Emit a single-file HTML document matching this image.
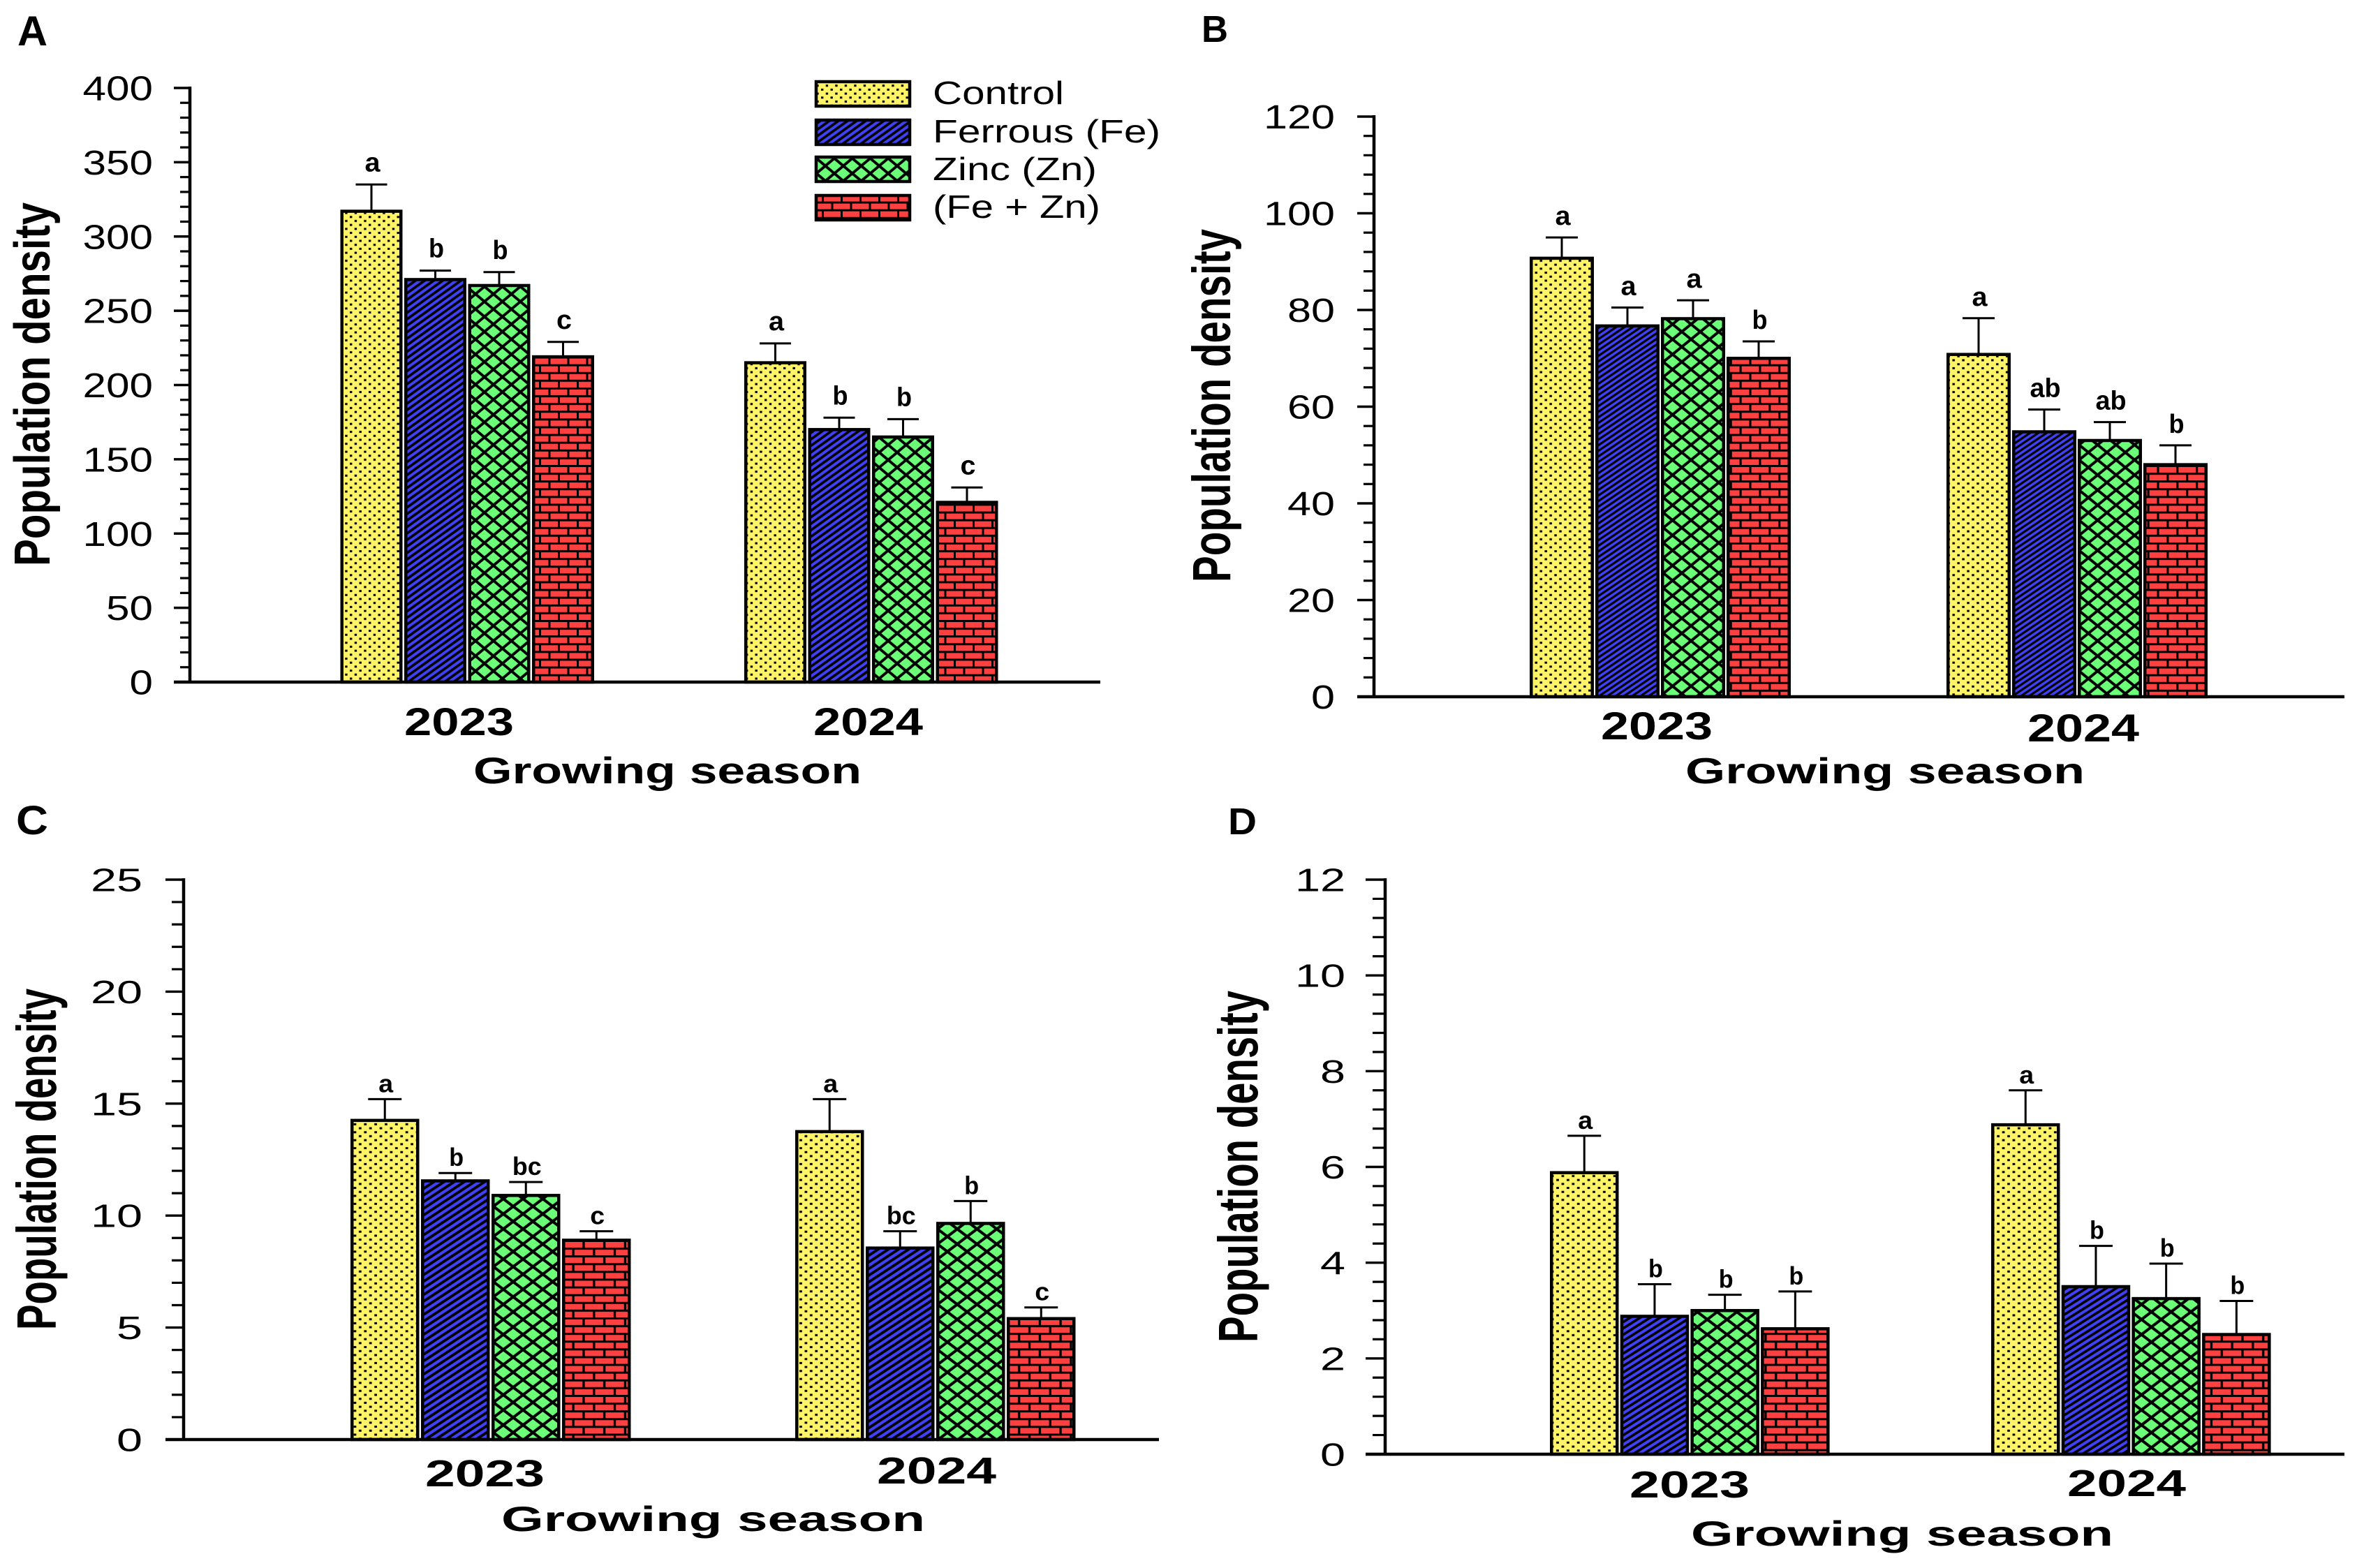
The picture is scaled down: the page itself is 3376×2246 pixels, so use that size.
<!DOCTYPE html>
<html lang="en">
<head>
<meta charset="utf-8">
<title>Population density by growing season</title>
<style>
html,body{margin:0;padding:0;background:#fff;}
svg{display:block;}
text{font-family:"Liberation Sans",Arial,sans-serif;fill:#000;}
</style>
</head>
<body>
<svg id="figure" xmlns="http://www.w3.org/2000/svg" width="3376" height="2246" viewBox="0 0 3376 2246">
<defs id="defs"></defs>
<rect x="0" y="0" width="3376" height="2246" fill="#fff"/>
</svg>
<script>
// ---------- data ----------
const categories = ['2023', '2024'];
const seriesNames = ['Control', 'Ferrous (Fe)', 'Zinc (Zn)', '(Fe + Zn)'];
const seriesKeys = ['control', 'ferrous', 'zinc', 'fe-zn'];

const aTicks = [0, 50, 100, 150, 200, 250, 300, 350, 400];
const aValues2023 = [317, 271, 267, 219];
const aValues2024 = [215, 170, 165, 121];
const aErrors2023 = [18, 6, 9, 10];
const aErrors2024 = [13, 8, 12, 10];
const aLetters2023 = ['a', 'b', 'b', 'c'];
const aLetters2024 = ['a', 'b', 'b', 'c'];

const bTicks = [0, 20, 40, 60, 80, 100, 120];
const bValues2023 = [90.7, 76.7, 78.2, 70];
const bValues2024 = [70.8, 54.8, 53, 48];
const bErrors2023 = [4.3, 3.8, 3.8, 3.5];
const bErrors2024 = [7.5, 4.6, 3.8, 4];
const bLetters2023 = ['a', 'a', 'a', 'b'];
const bLetters2024 = ['a', 'ab', 'ab', 'b'];

const cTicks = [0, 5, 10, 15, 20, 25];
const cValues2023 = [14.25, 11.55, 10.9, 8.9];
const cValues2024 = [13.75, 8.55, 9.65, 5.4];
const cErrors2023 = [0.95, 0.35, 0.6, 0.4];
const cErrors2024 = [1.45, 0.75, 1, 0.5];
const cLetters2023 = ['a', 'b', 'bc', 'c'];
const cLetters2024 = ['a', 'bc', 'b', 'c'];

const dTicks = [0, 2, 4, 6, 8, 10, 12];
const dValues2023 = [5.88, 2.88, 3, 2.62];
const dValues2024 = [6.88, 3.5, 3.25, 2.5];
const dErrors2023 = [0.77, 0.67, 0.33, 0.78];
const dErrors2024 = [0.72, 0.85, 0.73, 0.7];
const dLetters2023 = ['a', 'b', 'b', 'b'];
const dLetters2024 = ['a', 'b', 'b', 'b'];

// ---------- layout ----------
const panels = [
  {id:'a', label:'A', labelX:25, labelY:65, labelLen:43, labelSize:60,
   axisX:272, y0:977, yTop:126, tickLeft:249, minorLeft:258, xEnd:1576, minorPerMajor:5,
   groupX:[487.5,1066], pitch:91.5, barW:89, capW:45, letterGap:19, letterSize:38,
   ticks:aTicks, values:[aValues2023,aValues2024], errors:[aErrors2023,aErrors2024], letters:[aLetters2023,aLetters2024],
   tickRight:219, tickSize:49, digitW:33.5,
   titleX:71, titleBottom:811, titleLen:521, titleSize:72,
   yearX:[579,1165], yearY:[1053,1053], yearLen:[157,157], yearSize:56,
   xTitleX:678, xTitleY:1122, xTitleLen:556, xTitleSize:53, patX:1, stripeW:13, stripeH:9.3},
  {id:'b', label:'B', labelX:1721, labelY:60, labelLen:38, labelSize:54,
   axisX:1968, y0:998, yTop:167, tickLeft:1944, minorLeft:1953, xEnd:3358, minorPerMajor:5,
   groupX:[2191,2788], pitch:94, barW:92, capW:46, letterGap:18, letterSize:38,
   ticks:bTicks, values:[bValues2023,bValues2024], errors:[bErrors2023,bErrors2024], letters:[bLetters2023,bLetters2024],
   tickRight:1912, tickSize:48, digitW:34,
   titleX:1762, titleBottom:834, titleLen:506, titleSize:77,
   yearX:[2293,2904], yearY:[1059,1062], yearLen:[160,160], yearSize:56,
   xTitleX:2414, xTitleY:1122, xTitleLen:572, xTitleSize:52, patX:1.03, stripeW:11.5, stripeH:8},
  {id:'c', label:'C', labelX:23, labelY:1195, labelLen:46, labelSize:58,
   axisX:263, y0:2062, yTop:1260, tickLeft:237, minorLeft:246, xEnd:1660, minorPerMajor:5,
   groupX:[502,1139], pitch:101, barW:98.5, capW:48, letterGap:10, letterSize:36,
   ticks:cTicks, values:[cValues2023,cValues2024], errors:[cErrors2023,cErrors2024], letters:[cLetters2023,cLetters2024],
   tickRight:204, tickSize:46, digitW:37,
   titleX:80, titleBottom:1905, titleLen:489, titleSize:80,
   yearX:[609,1256], yearY:[2129,2125], yearLen:[171,171], yearSize:54,
   xTitleX:718, xTitleY:2193, xTitleLen:607, xTitleSize:50, patX:1.1, stripeW:13.2, stripeH:9.5},
  {id:'d', label:'D', labelX:1759, labelY:1195, labelLen:41, labelSize:54,
   axisX:1984, y0:2083, yTop:1260, tickLeft:1956, minorLeft:1966, xEnd:3358, minorPerMajor:5,
   groupX:[2220,2852], pitch:100.7, barW:98.5, capW:48, letterGap:10, letterSize:36,
   ticks:dTicks, values:[dValues2023,dValues2024], errors:[dErrors2023,dErrors2024], letters:[dLetters2023,dLetters2024],
   tickRight:1927, tickSize:46, digitW:36,
   titleX:1801, titleBottom:1923, titleLen:504, titleSize:80,
   yearX:[2334,2961], yearY:[2145,2143], yearLen:[172,170], yearSize:54,
   xTitleX:2422, xTitleY:2214, xTitleLen:605, xTitleSize:50, patX:1.1, stripeW:13, stripeH:9},
];

const legendLayout = {boxX:1167, boxW:138, boxH:39, textX:[1336,1336,1336,1336],
  boxY:[115,170,223,278], baseY:[149,204,258,312], textLen:[188,326,235,240], size:46};

// ---------- helpers ----------
const NS = 'http://www.w3.org/2000/svg';
const svg = document.getElementById('figure');
const defs = document.getElementById('defs');

function make(tag, attrs, parent) {
  const el = document.createElementNS(NS, tag);
  for (const k in attrs) el.setAttribute(k, attrs[k]);
  parent.appendChild(el);
  return el;
}

function makeText(str, x, y, size, len, bold, parent, rot) {
  const attrs = {x:x, y:y, 'font-size':size, textLength:len, lengthAdjust:'spacingAndGlyphs'};
  if (bold) attrs['font-weight'] = 'bold';
  if (rot) attrs.transform = 'rotate(-90 ' + x + ' ' + y + ')';
  const t = make('text', attrs, parent);
  t.textContent = str;
  return t;
}

function makePatterns(id, sx, sw, sh) {
  const tf = 'scale(' + sx + ' 1)';
  const common = {patternUnits:'userSpaceOnUse', patternTransform:tf};
  const dots = make('pattern', Object.assign({id:'dots-' + id, width:13.5, height:11.4}, common), defs);
  make('rect', {x:0, y:0, width:13.5, height:11.4, fill:'#fff468'}, dots);
  make('rect', {x:1.5, y:1.5, width:3.4, height:3, fill:'#000'}, dots);
  make('rect', {x:8.25, y:7.2, width:3.4, height:3, fill:'#000'}, dots);

  const stripes = make('pattern', Object.assign({id:'stripes-' + id, width:sw, height:sh}, common), defs);
  make('rect', {x:0, y:0, width:sw, height:sh, fill:'#4040f4'}, stripes);
  make('path', {d:'M' + (-sw / 4) + ' ' + (sh / 4) + 'L' + (sw / 4) + ' ' + (-sh / 4) +
    'M0 ' + sh + 'L' + sw + ' 0M' + (sw * 0.75) + ' ' + (sh * 1.25) + 'L' + (sw * 1.25) + ' ' + (sh * 0.75),
    stroke:'#000', 'stroke-width':sh * 0.39, fill:'none'}, stripes);

  const cross = make('pattern', Object.assign({id:'cross-' + id, width:25.7, height:21.6}, common), defs);
  make('rect', {x:0, y:0, width:25.7, height:21.6, fill:'#6cff78'}, cross);
  make('path', {d:'M0 0L25.7 21.6M0 21.6L25.7 0', stroke:'#000', 'stroke-width':3.9, fill:'none'}, cross);

  const brick = make('pattern', Object.assign({id:'brick-' + id, width:27, height:22.2}, common), defs);
  make('rect', {x:0, y:0, width:27, height:22.2, fill:'#ff4040'}, brick);
  make('path', {d:'M0 1.5H27M0 12.6H27M4 1.5V12.6M17.5 12.6V22.2M17.5 0V1.5', stroke:'#000', 'stroke-width':3, fill:'none'}, brick);
}

const patternNames = ['dots', 'stripes', 'cross', 'brick'];

function drawPanel(p) {
  makePatterns(p.id, p.patX, p.stripeW, p.stripeH);
  const g = make('g', {}, svg);
  
  

  const maxTick = p.ticks[p.ticks.length - 1];
  const yScale = function (v) { return p.y0 - (v / maxTick) * (p.y0 - p.yTop); };
  const xScale = function (groupIndex, seriesIndex) { return p.groupX[groupIndex] + seriesIndex * p.pitch; };

  const lab = makeText(p.label, p.labelX, p.labelY, p.labelSize, p.labelLen, true, g);
  
  

  // bars
  categories.forEach(function (cat, gi) {
    p.values[gi].forEach(function (v, si) {
      const x = xScale(gi, si);
      const cx = x + p.barW / 2;
      const top = yScale(v);
      const errTop = yScale(v + p.errors[gi][si]);

      const stem = make('line', {x1:cx, x2:cx, y1:top, y2:errTop, stroke:'#000', 'stroke-width':3}, g);
      
      

      const cap = make('line', {x1:cx - p.capW / 2, x2:cx + p.capW / 2, y1:errTop, y2:errTop, stroke:'#000', 'stroke-width':3}, g);
      
      

      const bar = make('rect', {x:x + 2.25, y:top, width:p.barW - 4.5, height:p.y0 - top,
        fill:'url(#' + patternNames[si] + '-' + p.id + ')', stroke:'#000', 'stroke-width':4.5}, g);
      
      

      const str = p.letters[gi][si];
      const w = str.length * p.letterSize * 0.58;
      const letter = makeText(str, cx - w / 2 + 1.5, errTop - p.letterGap, p.letterSize, w, true, g);
      
      
    });

    const year = makeText(cat, p.yearX[gi], p.yearY[gi], p.yearSize, p.yearLen[gi], true, g);
    
    
  });

  // axes
  const yAxis = make('line', {x1:p.axisX, x2:p.axisX, y1:p.yTop - 2, y2:p.y0 + 2, stroke:'#000', 'stroke-width':4.5}, g);
  
  

  const xAxis = make('line', {x1:p.tickLeft, x2:p.xEnd, y1:p.y0, y2:p.y0, stroke:'#000', 'stroke-width':4.4}, g);
  
  

  p.ticks.forEach(function (t, i) {
    const y = yScale(t);
    const major = make('line', {x1:p.tickLeft, x2:p.axisX, y1:y, y2:y, stroke:'#000', 'stroke-width':3.4}, g);
    
    

    const str = String(t);
    const len = str.length * p.digitW;
    const lbl = makeText(str, p.tickRight - len, y + p.tickSize * 0.358, p.tickSize, len, false, g);
    
    

    if (i < p.ticks.length - 1) {
      const step = (p.ticks[i + 1] - t) / p.minorPerMajor;
      for (let m = 1; m < p.minorPerMajor; m++) {
        const my = yScale(t + m * step);
        const minor = make('line', {x1:p.minorLeft, x2:p.axisX, y1:my, y2:my, stroke:'#000', 'stroke-width':3.2}, g);
        
        
      }
    }
  });

  const yTitle = makeText('Population density', p.titleX, p.titleBottom, p.titleSize, p.titleLen, true, g, true);
  
  

  const xTitle = makeText('Growing season', p.xTitleX, p.xTitleY, p.xTitleSize, p.xTitleLen, true, g);
  
  
}

function drawLegend() {
  const L = legendLayout;
  const g = make('g', {}, svg);
  
  
  seriesNames.forEach(function (name, i) {
    const swatch = make('rect', {x:L.boxX + 2, y:L.boxY[i] + 2, width:L.boxW - 4, height:L.boxH - 4,
      fill:'url(#' + patternNames[i] + '-a)', stroke:'#000', 'stroke-width':4.5}, g);
    
    

    const t = makeText(name, L.textX[i], L.baseY[i], L.size, L.textLen[i], false, g);
    
    
  });
}

panels.forEach(drawPanel);
drawLegend();
</script>
</body>
</html>
